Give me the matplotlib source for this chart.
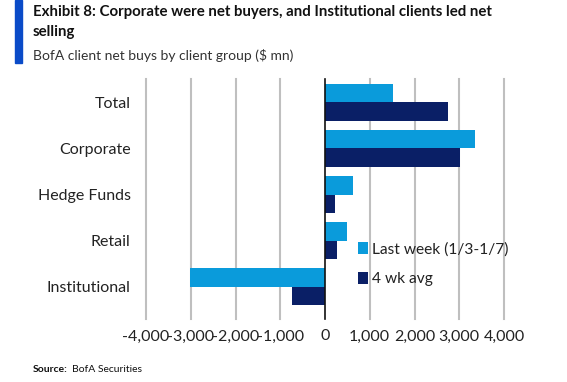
import matplotlib
matplotlib.use("Agg")
import matplotlib.pyplot as plt
from matplotlib.patches import Rectangle
import numpy as np

categories = ["Total", "Corporate", "Hedge Funds", "Retail", "Institutional"]
last_week = [1520, 3350, 630, 500, -3015]
four_wk = [2740, 3020, 225, 260, -740]
xticks = [-4000, -3000, -2000, -1000, 0, 1000, 2000, 3000, 4000]
series_names = ["Last week (1/3-1/7)", "4 wk avg"]

LIGHT = "#0A9BDB"
NAVY = "#0A1F66"
FONT = "Lato"

W, H = 567, 382
fig = plt.figure(figsize=(W / 100, H / 100), dpi=100)
ax = fig.add_axes([146 / W, 1 - 310 / H, (504 - 146) / W, (310 - 79) / H])

y = np.arange(len(categories))
bh = 0.4
ax.barh(y - bh / 2, last_week, height=bh, color=LIGHT, label=series_names[0], zorder=3)
ax.barh(y + bh / 2, four_wk, height=bh, color=NAVY, label=series_names[1], zorder=3)

ax.set_ylim(len(categories) - 0.5, -0.5)
ax.set_xlim(-4000, 4000)
ax.set_xticks(xticks)
ax.set_xticklabels([f"{v:,}" for v in xticks], fontsize=11.5, color="#222222", family=FONT)
ax.set_yticks(y)
ax.set_yticklabels(categories, fontsize=11.5, color="#222222", family=FONT)
ax.tick_params(axis="both", length=0)
ax.tick_params(axis="x", pad=14)
ax.tick_params(axis="y", pad=11)
for v in xticks:
    if v != 0:
        ax.axvline(v, color="#BFBFBF", lw=1.5, zorder=1, ymin=-0.04, clip_on=False)
ax.axvline(0, color="#111111", lw=1.2, zorder=4, ymin=-0.04, clip_on=False)
for s in ax.spines.values():
    s.set_visible(False)

leg = ax.legend(loc="upper left", bbox_to_anchor=((352 - 146) / (504 - 146), (310 - 236) / (310 - 79)),
                frameon=False, prop={"family": FONT, "size": 11.2}, handlelength=0.6, handleheight=0.8,
                handletextpad=0.3, labelspacing=1.0, borderaxespad=0)
for t in leg.get_texts():
    t.set_color("#222222")

# title block
fig.patches.append(Rectangle((15 / W, 1 - 63 / H), 7 / W, 63 / H, transform=fig.transFigure,
                             color="#0A4BC8", zorder=5))
fig.text(33 / W, 1 - 5 / H, "Exhibit 8: Corporate were net buyers, and Institutional clients led net\nselling",
         fontsize=10.8, fontweight="bold", family=FONT, va="top", ha="left", color="#111111", linespacing=1.55)
fig.text(33 / W, 1 - 56 / H, "BofA client net buys by client group ($ mn)", fontsize=10, family=FONT,
         va="center", ha="left", color="#333333")
fig.text(33 / W, 1 - 370 / H, "Source:", fontsize=7.5, fontweight="bold", family=FONT, va="center",
         ha="left", color="#111111")
fig.text(72 / W, 1 - 370 / H, "BofA Securities", fontsize=7.5, family=FONT, va="center", ha="left",
         color="#111111")

fig.savefig("out.png", dpi=100)
